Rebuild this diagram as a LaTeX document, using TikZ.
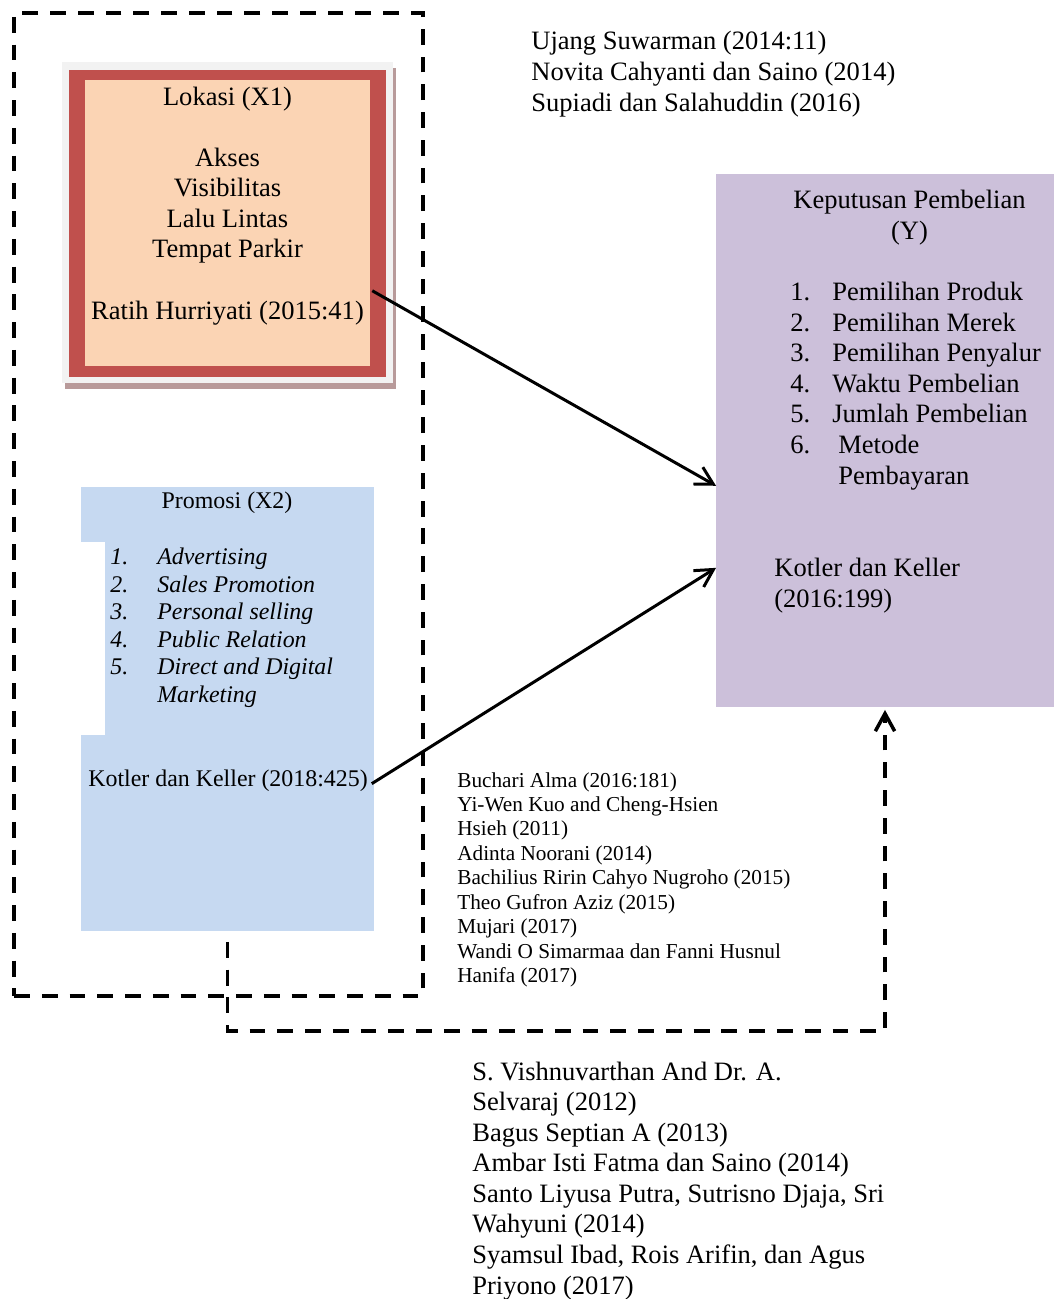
\documentclass[tikz,border=0pt]{standalone}
\usepackage{fontspec}
\setmainfont{Liberation Serif}
\usepackage{tikz}
\usetikzlibrary{arrows.meta}

\definecolor{lokasiPeach}{HTML}{FBD4B4}
\definecolor{lokasiRed}{HTML}{C0504D}
\definecolor{lokasiFrame}{HTML}{F2F2F2}
\definecolor{lokasiShadow}{HTML}{B89A9A}
\definecolor{promosiBlue}{HTML}{C6D9F1}
\definecolor{keputusanLila}{HTML}{CCC0DA}

\newcommand{\numP}[1]{\makebox[0.94cm][l]{#1}}
\newcommand{\numY}[1]{\makebox[0.84cm][l]{#1}}

\begin{document}
\begin{tikzpicture}[
    x=0.02cm,
    y=-0.02cm,
    >={Straight Barb[length=10pt,width=11pt]},
    bigtext/.style={inner sep=0pt, font=\fontsize{15.1}{17.4}\selectfont},
    midtext/.style={inner sep=0pt, font=\fontsize{13.6}{15.6}\selectfont},
    smalltext/.style={inner sep=0pt, font=\fontsize{12.1}{13.9}\selectfont},
    panel/.style={inner sep=0pt, outer sep=0pt},
    link/.style={->, line width=1.7pt},
    dashlink/.style={line width=2pt, dash pattern=on 9pt off 6.8pt}
]

\useasboundingbox (0,0) rectangle (1054,1299);

% --- Lokasi (X1) ---
\node[panel, minimum width=6.62cm, minimum height=6.42cm, fill=lokasiShadow] (lok-shadow) at (230.5,228.5) {};
\node[panel, minimum width=6.62cm, minimum height=6.42cm, fill=lokasiFrame]  (lok-frame)  at (227.5,222.5) {};
\node[panel, minimum width=6.34cm, minimum height=6.14cm, fill=lokasiRed]    (lok-red)    at (227.5,223.5) {};
\node[panel, minimum width=5.70cm, minimum height=5.72cm, fill=lokasiPeach]  (lok-peach)  at (227.5,223) {};

% anchor=base sits on the last line
\node[bigtext, align=center, anchor=base] (lokasi) at (227.5,319)
    {Lokasi (X1)\\[17.4pt]Akses\\Visibilitas\\Lalu Lintas\\Tempat Parkir\\[17.4pt]Ratih Hurriyati (2015:41)};

% --- Promosi (X2) ---
\node[panel, minimum width=5.86cm, minimum height=8.88cm, fill=promosiBlue] (promosi) at (227.5,709) {};
\fill[white] (81,542) rectangle (105,735);

\node[midtext, anchor=base] (promosi-title) at (227,508) {Promosi (X2)};
\node[midtext, align=left, anchor=base west, font=\fontsize{13.6}{15.6}\selectfont\itshape] (promosi-list) at (110,702)
    {\numP{1.}Advertising\\\numP{2.}Sales Promotion\\\numP{3.}Personal selling\\\numP{4.}Public Relation\\\numP{5.}Direct and Digital\\\hspace*{0.94cm}Marketing};
\node[midtext, anchor=base west] (promosi-ref) at (88,786) {Kotler dan Keller (2018:425)};

% --- Keputusan Pembelian (Y) ---
\node[panel, minimum width=6.76cm, minimum height=10.66cm, fill=keputusanLila] (keputusan) at (885,440.5) {};

\node[bigtext, align=center, anchor=base] (keputusan-title) at (909.5,239) {Keputusan Pembelian\\(Y)};
\node[bigtext, align=left, anchor=base west] (keputusan-list) at (790,484)
    {\numY{1.}Pemilihan Produk\\\numY{2.}Pemilihan Merek\\\numY{3.}Pemilihan Penyalur\\\numY{4.}Waktu Pembelian\\\numY{5.}Jumlah Pembelian\\\numY{6.}\hspace*{0.12cm}Metode\\\hspace*{0.96cm}Pembayaran};
\node[bigtext, align=left, anchor=base west] (keputusan-ref) at (774,607) {Kotler dan Keller\\(2016:199)};

% --- Rujukan ---
\node[bigtext, align=left, anchor=base west] (ref-lokasi) at (531,111)
    {Ujang Suwarman (2014:11)\\Novita Cahyanti dan Saino (2014)\\Supiadi dan Salahuddin (2016)};
\node[smalltext, align=left, anchor=base west] (ref-promosi) at (457,982.5)
    {Buchari Alma (2016:181)\\Yi-Wen Kuo and Cheng-Hsien\\Hsieh (2011)\\Adinta Noorani (2014)\\Bachilius Ririn Cahyo Nugroho (2015)\\Theo Gufron Aziz (2015)\\Mujari (2017)\\Wandi O Simarmaa dan Fanni Husnul\\Hanifa (2017)};
\node[bigtext, align=left, anchor=base west] (ref-simultan) at (472,1294)
    {S. Vishnuvarthan And Dr. A.\\Selvaraj (2012)\\Bagus Septian A (2013)\\Ambar Isti Fatma dan Saino (2014)\\Santo Liyusa Putra, Sutrisno Djaja, Sri\\Wahyuni (2014)\\Syamsul Ibad, Rois Arifin, dan Agus\\Priyono (2017)};

% --- Kerangka X1 + X2 ---
\node[panel, draw, dashlink, minimum width=8.18cm, minimum height=19.66cm] (kerangka) at (218.5,504.5) {};

% --- Panah ---
\draw[link, shorten <=1.5pt] (lok-peach.-25) -- (keputusan.195.7);
\draw[link, shorten <=2.5pt] (promosi-ref.base east) -- (keputusan.217.5);
\draw[dashlink, ->, shorten <=0.22cm, shorten >=0.06cm] (promosi.south) -- ++(0,100) -| (keputusan.south);

\end{tikzpicture}
\end{document}
